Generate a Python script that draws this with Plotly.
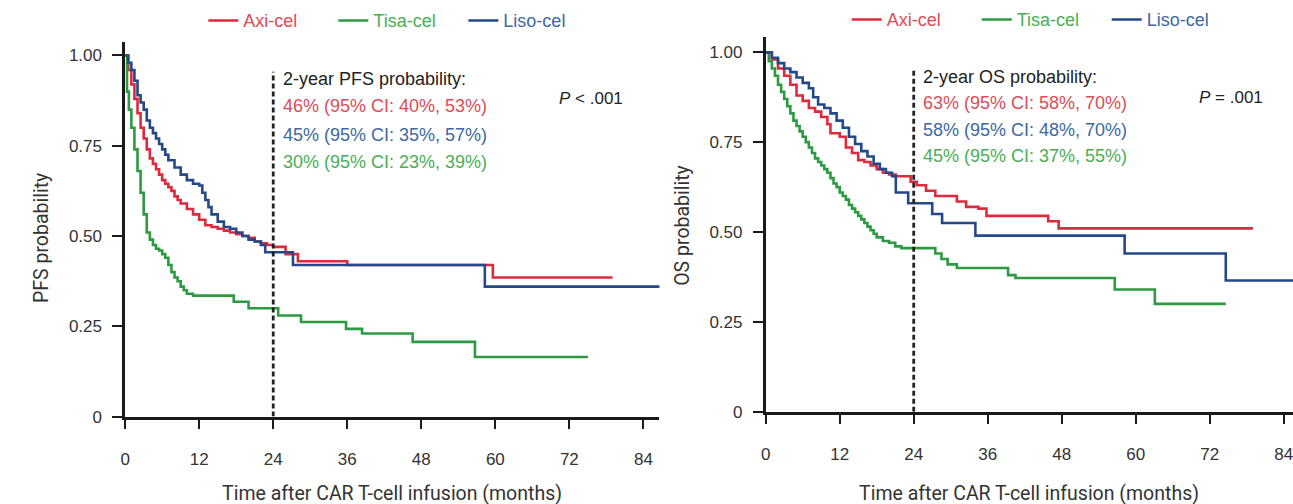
import plotly.graph_objects as go

# ---------------- data ----------------
months_ticks = [0, 12, 24, 36, 48, 60, 72, 84]
prob_ticks = [0, 0.25, 0.5, 0.75, 1.0]
prob_tick_text = ["0", "0.25", "0.50", "0.75", "1.00"]
milestone_month = 24

# PFS panel
pfs_axi_t = [0, 0.5, 1, 1.5, 2, 2.5, 3, 3.5, 4, 4.5, 5, 5.5, 6, 6.5, 7, 7.5, 8, 8.5, 9, 10, 11, 12,
             13, 14, 15, 16, 17, 18, 19, 20, 21, 22, 23, 24, 26, 28, 36, 59.6, 79]
pfs_axi_s = [1.0, 0.96, 0.92, 0.88, 0.84, 0.80, 0.77, 0.74, 0.715, 0.70, 0.685, 0.67, 0.655, 0.645,
             0.635, 0.625, 0.61, 0.60, 0.59, 0.575, 0.56, 0.545, 0.53, 0.525, 0.52, 0.515, 0.51,
             0.505, 0.50, 0.495, 0.485, 0.48, 0.475, 0.47, 0.45, 0.43, 0.42, 0.385, 0.385]

pfs_liso_t = [0, 0.5, 1, 1.5, 2, 2.5, 3, 3.5, 4, 4.5, 5, 5.5, 6, 6.5, 7, 8, 9, 10, 11, 12, 12.5, 13,
              13.5, 14, 15, 16, 17, 18, 19, 20, 21, 22, 22.7, 27.2, 58.3, 87]
pfs_liso_s = [1.0, 0.98, 0.96, 0.93, 0.89, 0.87, 0.85, 0.82, 0.80, 0.785, 0.77, 0.755, 0.74, 0.725,
              0.71, 0.69, 0.67, 0.655, 0.645, 0.64, 0.62, 0.60, 0.58, 0.56, 0.54, 0.525, 0.52, 0.51,
              0.50, 0.49, 0.485, 0.475, 0.455, 0.42, 0.36, 0.36]

pfs_tisa_t = [0, 0.3, 0.6, 1, 1.5, 2, 2.5, 3, 3.5, 4, 4.5, 5, 5.5, 6, 6.5, 7, 7.5, 8, 8.5, 9, 9.5, 10,
              11, 17.6, 20, 24.8, 28.5, 35.8, 38.4, 46.6, 56.7, 75]
pfs_tisa_s = [1.0, 0.90, 0.85, 0.80, 0.74, 0.68, 0.62, 0.56, 0.51, 0.49, 0.475, 0.465, 0.46, 0.45,
              0.44, 0.42, 0.40, 0.385, 0.375, 0.36, 0.35, 0.34, 0.335, 0.318, 0.30, 0.28, 0.262,
              0.243, 0.23, 0.207, 0.165, 0.165]

# OS panel
os_axi_t = [0, 1, 2, 3, 4, 5, 6, 7, 8, 9, 10, 10.5, 12, 13, 14, 15, 16, 17, 18, 19, 20, 21.1, 23.5,
            24.5, 26, 27.5, 31, 32.5, 34.5, 35.8, 45.8, 47.5, 79]
os_axi_s = [1.0, 0.98, 0.955, 0.935, 0.91, 0.88, 0.865, 0.845, 0.835, 0.82, 0.80, 0.775, 0.765,
            0.735, 0.72, 0.70, 0.695, 0.685, 0.675, 0.665, 0.66, 0.655, 0.64, 0.63, 0.615, 0.60,
            0.585, 0.57, 0.565, 0.545, 0.53, 0.51, 0.51]

os_liso_t = [0, 1, 2, 3, 4, 5, 6, 7, 7.7, 8.5, 9.5, 10.5, 11.5, 12.5, 13.5, 14.5, 15.5, 16.5, 17.5,
             18.5, 19.5, 20.5, 21.1, 23.1, 27, 28.6, 34, 58.2, 74.6, 86]
os_liso_s = [1.0, 0.985, 0.97, 0.955, 0.945, 0.93, 0.915, 0.90, 0.875, 0.855, 0.845, 0.83, 0.81,
             0.79, 0.765, 0.745, 0.725, 0.71, 0.69, 0.675, 0.665, 0.655, 0.61, 0.58, 0.55, 0.525,
             0.49, 0.44, 0.365, 0.365]

os_tisa_t = [0, 0.5, 1, 1.5, 2, 2.5, 3, 3.5, 4, 4.5, 5, 5.5, 6, 6.5, 7, 7.5, 8, 8.5, 9, 9.5, 10,
             10.5, 11, 11.5, 12, 12.5, 13, 13.5, 14, 14.5, 15, 15.5, 16, 16.5, 17, 17.5, 18, 19,
             20, 21, 22, 23, 27.5, 28.5, 29.5, 31, 39.3, 40.5, 56.6, 63.1, 74.6]
os_tisa_s = [1.0, 0.975, 0.955, 0.935, 0.91, 0.89, 0.87, 0.85, 0.83, 0.81, 0.795, 0.78, 0.765,
             0.75, 0.735, 0.72, 0.705, 0.695, 0.685, 0.675, 0.665, 0.65, 0.635, 0.625, 0.61, 0.60,
             0.59, 0.575, 0.565, 0.555, 0.545, 0.535, 0.525, 0.515, 0.505, 0.495, 0.485, 0.475,
             0.47, 0.46, 0.455, 0.455, 0.44, 0.425, 0.41, 0.40, 0.38, 0.372, 0.34, 0.30, 0.30]

series_names = ["Axi-cel", "Tisa-cel", "Liso-cel"]
pfs_text = ["2-year PFS probability:", "46% (95% CI: 40%, 53%)", "45% (95% CI: 35%, 57%)",
            "30% (95% CI: 23%, 39%)"]
os_text = ["2-year OS probability:", "63% (95% CI: 58%, 70%)", "58% (95% CI: 48%, 70%)",
           "45% (95% CI: 37%, 55%)"]
pfs_p = "<i>P</i> < .001"
os_p = "<i>P</i> = .001"

# ---------------- styling ----------------
line_col = {"Axi-cel": "#de2a3c", "Tisa-cel": "#2c9a40", "Liso-cel": "#23498a"}
text_col = {"Axi-cel": "#e24a55", "Tisa-cel": "#4aae56", "Liso-cel": "#3b69a3"}
tick_font = dict(family="Liberation Sans, Arial, sans-serif", size=17, color="#333333")
ann_font_family = "Liberation Sans, Arial, sans-serif"
title_font = dict(family="Roboto, Liberation Sans Narrow, sans-serif", size=19.5, color="#333333")

fig = go.Figure()

panels = [
    ("x", "y", "legend", [(pfs_axi_t, pfs_axi_s), (pfs_tisa_t, pfs_tisa_s), (pfs_liso_t, pfs_liso_s)]),
    ("x2", "y2", "legend2", [(os_axi_t, os_axi_s), (os_tisa_t, os_tisa_s), (os_liso_t, os_liso_s)]),
]
for xa, ya, lg, curves in panels:
    for name, (t, s) in zip(series_names, curves):
        fig.add_trace(go.Scatter(
            x=t, y=s, mode="lines", line=dict(color=line_col[name], width=2.6, shape="hv"),
            name=f"<span style='color:{text_col[name]}'>{name}</span>",
            xaxis=xa, yaxis=ya, legend=lg, hoverinfo="x+y"))
    # dashed 2-year reference line
    fig.add_trace(go.Scatter(
        x=[milestone_month, milestone_month], y=[0, 0.955], mode="lines",
        line=dict(color="#222222", width=2.8, dash="5px,3px"),
        xaxis=xa, yaxis=ya, showlegend=False, hoverinfo="skip"))

axis_common = dict(showline=True, linecolor="#1a1a1a", linewidth=2.6, ticks="outside",
                   tickcolor="#1a1a1a", tickwidth=2.4, ticklen=10, showgrid=False, zeroline=False,
                   tickfont=tick_font, ticklabeloverflow="allow")

fig.update_layout(
    width=1293, height=504,
    margin=dict(l=0, r=0, t=0, b=0),
    paper_bgcolor="white", plot_bgcolor="white",
    xaxis=dict(domain=[0.0933, 0.5081], range=[0, 86.6], tickvals=months_ticks,
               anchor="y", ticklabelstandoff=15, **axis_common),
    yaxis=dict(domain=[0.1567, 0.9147], range=[0, 1.037], tickvals=prob_ticks,
               ticktext=prob_tick_text, anchor="x", ticklabelstandoff=7, **axis_common),
    xaxis2=dict(domain=[0.5906, 1.0], range=[0, 85.5], tickvals=months_ticks,
                anchor="y2", ticklabelstandoff=15, **axis_common),
    yaxis2=dict(domain=[0.1667, 0.9246], range=[0, 1.042], tickvals=prob_ticks,
                ticktext=prob_tick_text, anchor="x2", ticklabelstandoff=7, **axis_common),
    legend=dict(orientation="h", x=0.154, y=0.958, xanchor="left", yanchor="middle",
                font=dict(family=ann_font_family, size=18), itemwidth=30,
                entrywidth=85, entrywidthmode="pixels", bgcolor="rgba(0,0,0,0)"),
    legend2=dict(orientation="h", x=0.6535, y=0.960, xanchor="left", yanchor="middle",
                 font=dict(family=ann_font_family, size=18), itemwidth=30,
                 entrywidth=85, entrywidthmode="pixels", bgcolor="rgba(0,0,0,0)"),
    showlegend=True,
)

# axis titles
fig.add_annotation(text="Time after CAR T-cell infusion (months)", xref="paper", yref="paper",
                   x=(0.0933 + 0.5081) / 2, y=-0.026, xanchor="center", yanchor="bottom",
                   showarrow=False, font=title_font)
fig.add_annotation(text="Time after CAR T-cell infusion (months)", xref="paper", yref="paper",
                   x=(0.5906 + 1.0) / 2, y=-0.026, xanchor="center", yanchor="bottom",
                   showarrow=False, font=title_font)
fig.add_annotation(text="PFS probability", xref="paper", yref="paper", x=36 / 1293,
                   y=1 - 243 / 504, textangle=-90, xanchor="center", yanchor="middle",
                   showarrow=False, font=title_font)
fig.add_annotation(text="OS probability", xref="paper", yref="paper", x=680 / 1293,
                   y=1 - 230 / 504, textangle=-90, xanchor="center", yanchor="middle",
                   showarrow=False, font=title_font)

# probability texts
line_colors = ["#222222", text_col["Axi-cel"], text_col["Liso-cel"], text_col["Tisa-cel"]]
for xa, ya, texts, ys, ptxt, py in [
    ("x", "y", pfs_text, [0.934, 0.859, 0.779, 0.706], pfs_p, 0.882),
    ("x2", "y2", os_text, [0.930, 0.859, 0.785, 0.712], os_p, 0.873),
]:
    for txt, yy, col in zip(texts, ys, line_colors):
        fig.add_annotation(text=txt, xref=xa, yref=ya, x=milestone_month + 1.2, y=yy,
                           xanchor="left", yanchor="middle", showarrow=False,
                           font=dict(family=ann_font_family, size=18, color=col))
    fig.add_annotation(text=ptxt, xref=xa, yref=ya, x=70, y=py, xanchor="left",
                       yanchor="middle", showarrow=False,
                       font=dict(family=ann_font_family, size=17, color="#222222"))

fig.write_html("out.html")
